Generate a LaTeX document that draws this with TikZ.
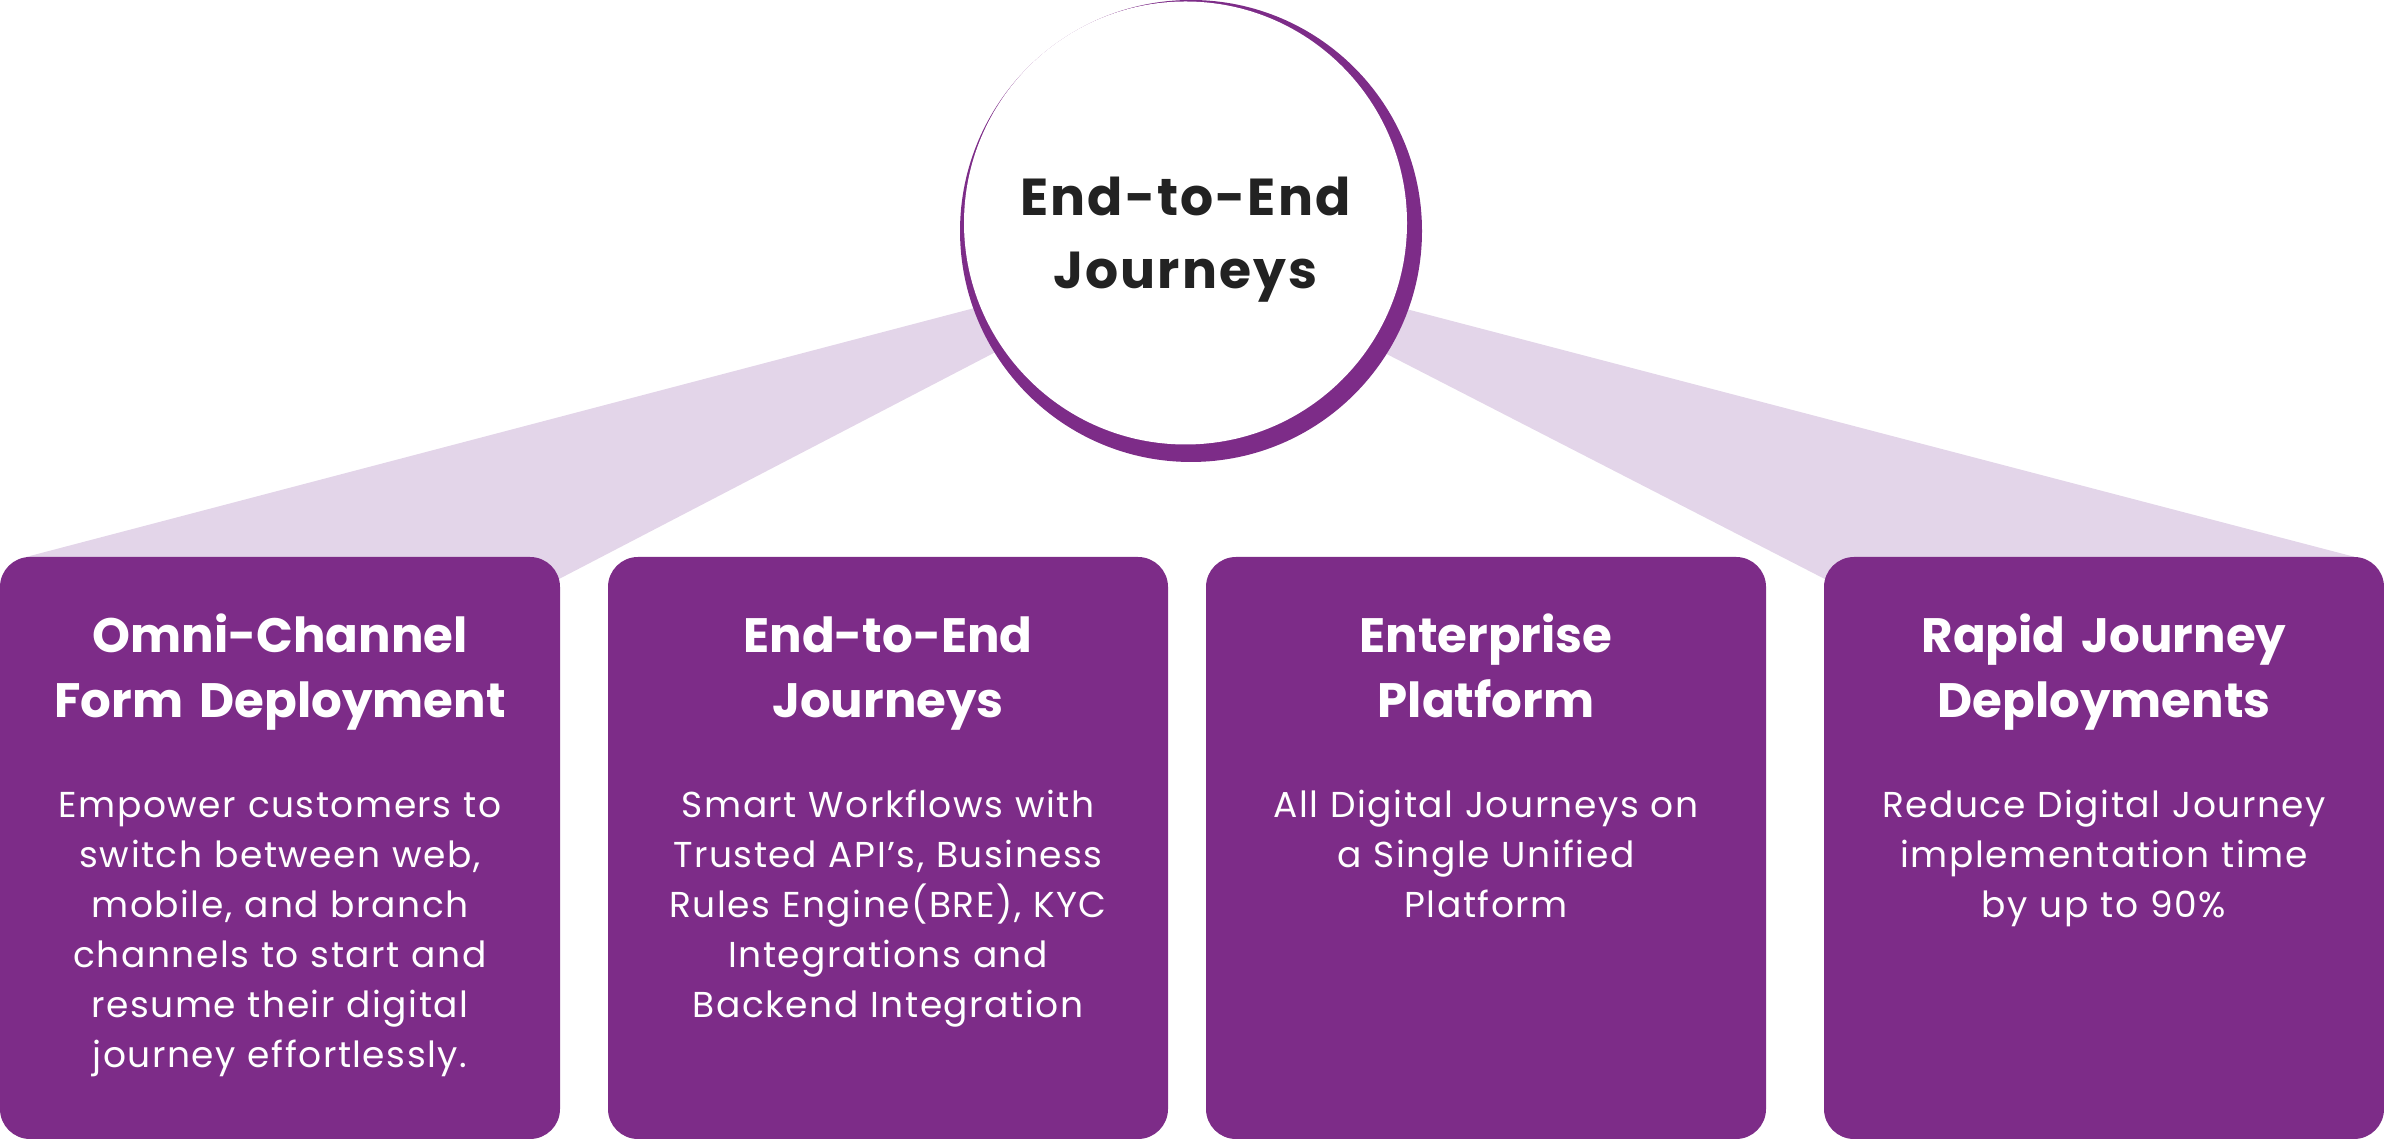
\documentclass[tikz,border=0pt]{standalone}
\usepackage{fontspec}
\setmainfont{Poppins}
\usetikzlibrary{positioning,backgrounds}
\definecolor{plum}{HTML}{7D2C88}
\definecolor{lilac}{HTML}{E3D5E9}
\definecolor{ink}{HTML}{222222}

\begin{document}
\begin{tikzpicture}[x=1pt,y=1pt,
    card/.style={rectangle, rounded corners=30pt, fill=plum, minimum width=560pt, minimum height=582pt, inner sep=0pt},
    cardhead/.style={text=white, text width=540pt, align=center, inner sep=0pt, font=\fontsize{48.3}{65}\selectfont\bfseries},
    cardbody/.style={text=white, text width=540pt, align=center, inner sep=0pt, font=\fontsize{36}{50}\selectfont\addfontfeatures{LetterSpace=4.2}},
    hubtext/.style={text=ink, text width=420pt, align=center, inner sep=0pt, font=\fontsize{52}{73}\selectfont\bfseries\addfontfeatures{LetterSpace=4}},
    fan/.style={fill=lilac}]
    \useasboundingbox (0,0) rectangle (2384,1139);
    % 
    \node[card] (omni) at (280,291) {};
    % 
    \node[card] (e2e) at (888,291) {};
    % 
    \node[card] (ent) at (1486,291) {};
    % 
    \node[card] (rapid) at (2104,291) {};
    %%%%%%%%%%%%%%%%%%%%%% 
    \node[cardhead, below=96pt of omni.north, anchor=base] (omnihead) {Omni-Channel\\Form Deployment};
    \node[cardbody, below=261pt of omni.north, anchor=base] (omnibody) {Empower customers to\\switch between web,\\mobile, and branch\\channels to start and\\resume their digital\\journey effortlessly.};
    % 
    \node[cardhead, below=96pt of e2e.north, anchor=base] (e2ehead) {End-to-End\\Journeys};
    \node[cardbody, below=261pt of e2e.north, anchor=base] (e2ebody) {Smart Workflows with\\Trusted API’s, Business\\Rules Engine(BRE), KYC\\Integrations and\\Backend Integration};
    % 
    \node[cardhead, below=96pt of ent.north, anchor=base] (enthead) {Enterprise\\Platform};
    \node[cardbody, below=261pt of ent.north, anchor=base] (entbody) {All Digital Journeys on\\a Single Unified\\Platform};
    % 
    \node[cardhead, below=96pt of rapid.north, anchor=base] (rapidhead) {Rapid Journey\\Deployments};
    \node[cardbody, below=261pt of rapid.north, anchor=base] (rapidbody) {Reduce Digital Journey\\implementation time\\by up to 90\%};
    %%%%%%%%%%%%%%%%%%%%%% 
    \node[circle, fill=plum, minimum size=462pt, inner sep=0pt] (hubrim) at (1191,908) {};
    % 
    \node[circle, fill=white, minimum size=443pt, inner sep=0pt] (hub) at (1185.5,916) {};
    % 
    \node[hubtext, anchor=base] (hubtitle) at ([yshift=7pt]hub.center) {End-to-End\\Journeys};
    %%%%%%%%%%%%%%%%%%%%%% 
    \coordinate (apex) at (1188,887);
    % 
    \begin{scope}[on background layer]
      \fill[fan] (apex) -- ([xshift=27pt]omni.north west) -- ([xshift=-20pt,yshift=-32pt]omni.north east) -- cycle;
      % 
      \fill[fan] (apex) -- ([xshift=-30pt]rapid.north east) -- ([xshift=20pt,yshift=-32pt]rapid.north west) -- cycle;
    \end{scope}
  \end{tikzpicture}
\end{document}
